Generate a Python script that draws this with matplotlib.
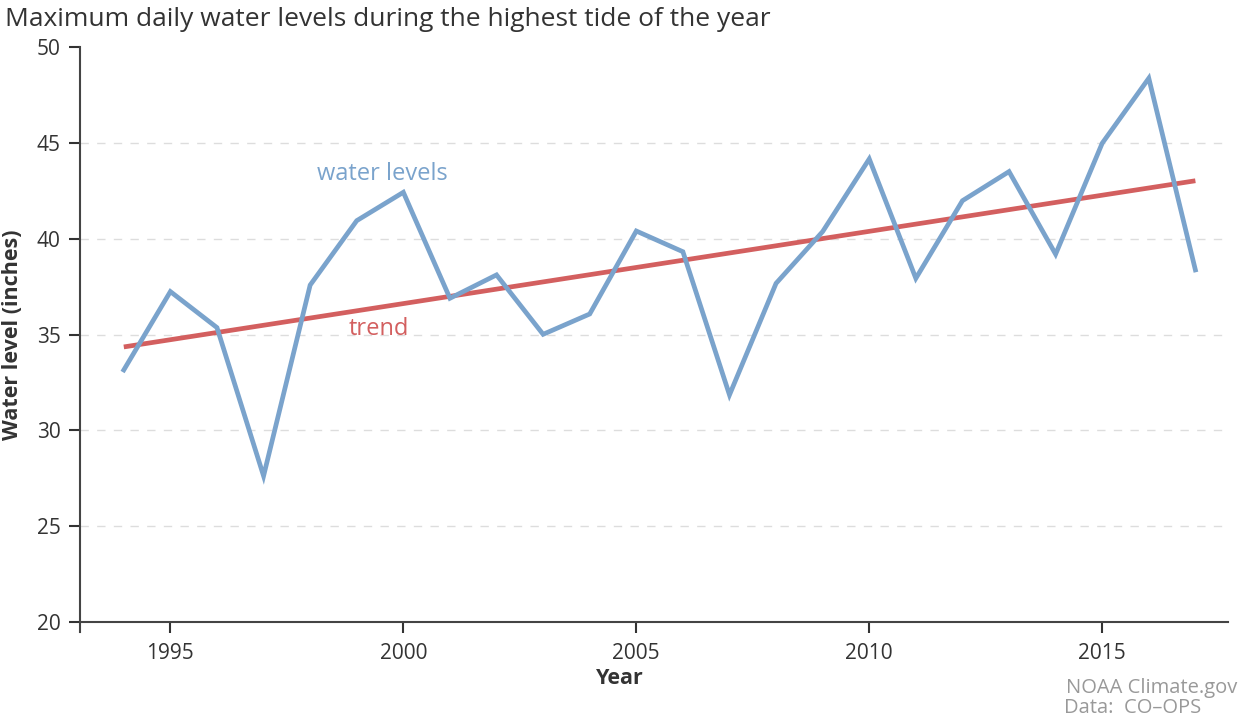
import numpy as np
import matplotlib
matplotlib.use("Agg")
import matplotlib.pyplot as plt

# data
years = list(range(1994, 2018))
water_levels = [33.15, 37.24, 35.36, 27.62, 37.58, 40.94, 42.42, 36.89, 38.11, 35.01,
                36.07, 40.40, 39.32, 31.85, 37.67, 40.37, 44.16, 37.93, 41.98, 43.50,
                39.19, 44.98, 48.37, 38.37]
x_ticks = [1995, 2000, 2005, 2010, 2015]
y_ticks = [20, 25, 30, 35, 40, 45, 50]

blue = '#7aa3cc'
red = '#d35f5f'
text_col = '#333333'

plt.rcParams['font.family'] = ['Open Sans', 'DejaVu Sans']

fig = plt.figure(figsize=(12.4, 7.22), dpi=100)
ax = fig.add_axes([80/1240, 1 - 631.6/722, (1228 - 80)/1240, (631.6 - 47)/722])

# linear trend from the data
coef = np.polyfit(years, water_levels, 1)
trend = np.polyval(coef, years)

ax.plot(years, trend, color=red, lw=3.4, solid_capstyle='butt', zorder=3)
ax.plot(years, water_levels, color=blue, lw=3.4, solid_joinstyle='miter', zorder=4)

ax.set_xlim(1993.06, 2017.7)
ax.set_ylim(19.5, 50)
ax.set_xticks(x_ticks)
ax.set_yticks(y_ticks)
ax.tick_params(axis='both', labelsize=15, colors=text_col, length=8, width=1.5, pad=6)
ax.tick_params(axis='x', pad=7)

for y in y_ticks[1:-1]:
    ax.axhline(y, color='#dddddd', lw=1, ls=(0, (6, 6)), zorder=1)

for s in ['top', 'right']:
    ax.spines[s].set_visible(False)
ax.spines['bottom'].set_position(('data', 20))
for s in ['left', 'bottom']:
    ax.spines[s].set_color('#444444')
    ax.spines[s].set_linewidth(1.5)

ax.text(1999.55, 43.4, 'water levels', color=blue, fontsize=17, ha='center', va='center')
ax.text(1999.47, 35.3, 'trend', color=red, fontsize=17, ha='center', va='center')

fig.text(13/1240, 1 - 335/722, 'Water level (inches)', rotation=90, fontsize=15.5,
         fontweight='bold', color=text_col, ha='center', va='center')
fig.text(620/1240, 1 - 678/722, 'Year', fontsize=15.5, fontweight='bold', color=text_col,
         ha='center', va='center')
fig.text(5/1240, 1 - 19/722, 'Maximum daily water levels during the highest tide of the year',
         fontsize=19, color=text_col, ha='left', va='center')
fig.text(1237/1240, 1 - 688/722, 'NOAA Climate.gov', fontsize=14.5, color='#999999',
         ha='right', va='center')
fig.text(1064/1240, 1 - 708/722, 'Data:  CO\u2013OPS', fontsize=14.5, color='#999999',
         ha='left', va='center')

fig.savefig('out.png', dpi=100)
